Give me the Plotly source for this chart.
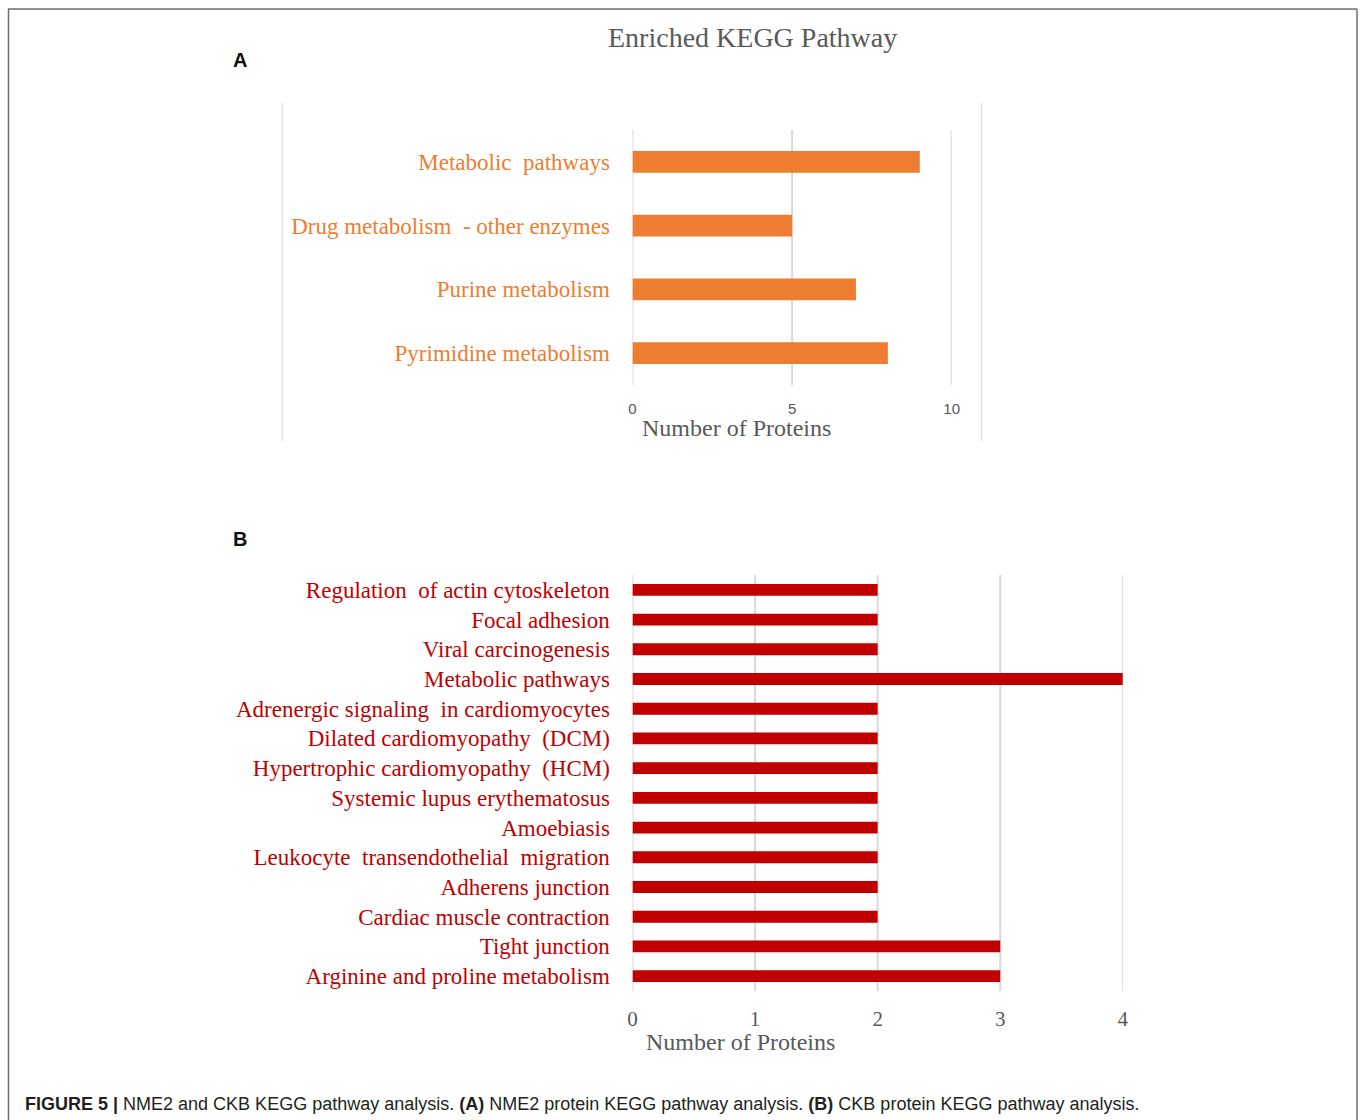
import plotly.graph_objects as go

# Panel A: NME2 enriched KEGG pathways
a_pathways = [
    "Metabolic  pathways",
    "Drug metabolism  - other enzymes",
    "Purine metabolism",
    "Pyrimidine metabolism",
]
a_counts = [9, 5, 7, 8]

# Panel B: CKB enriched KEGG pathways
b_pathways = [
    "Regulation  of actin cytoskeleton",
    "Focal adhesion",
    "Viral carcinogenesis",
    "Metabolic pathways",
    "Adrenergic signaling  in cardiomyocytes",
    "Dilated cardiomyopathy  (DCM)",
    "Hypertrophic cardiomyopathy  (HCM)",
    "Systemic lupus erythematosus",
    "Amoebiasis",
    "Leukocyte  transendothelial  migration",
    "Adherens junction",
    "Cardiac muscle contraction",
    "Tight junction",
    "Arginine and proline metabolism",
]
b_counts = [2, 2, 2, 4, 2, 2, 2, 2, 2, 2, 2, 2, 3, 3]

a_ticks = [0, 5, 10]
b_ticks = [0, 1, 2, 3, 4]

W, H = 1360, 1120
# horizontal paper span as the page actually lays it out
X_OFF, X_SPAN = 5, 1346
ORANGE = "#ED7D31"
DARKRED = "#C00000"
GRID = "#D9D9D9"
GRAYTXT = "#595959"
SERIF = "Liberation Serif, Times New Roman, serif"
SANS = "Liberation Sans, Arial, sans-serif"


def px(x):
    return (x - X_OFF) / X_SPAN


def py(y):
    return 1 - y / H


fig = go.Figure()

fig.add_trace(go.Bar(
    x=a_counts, y=a_pathways, orientation="h",
    marker=dict(color=ORANGE, line=dict(width=0)),
    width=0.345, xaxis="x", yaxis="y", showlegend=False,
))
fig.add_trace(go.Bar(
    x=b_counts, y=b_pathways, orientation="h",
    marker=dict(color=DARKRED, line=dict(width=0)),
    width=0.40, xaxis="x2", yaxis="y2", showlegend=False,
))

fig.update_layout(
    width=W, height=H, autosize=False,
    margin=dict(l=0, r=0, t=0, b=0),
    paper_bgcolor="white", plot_bgcolor="white",
    xaxis=dict(
        domain=[px(632), px(951)], range=[0, 10], tickvals=a_ticks,
        showgrid=False, zeroline=False,
        showline=False, ticks="outside", ticklen=10,
        tickcolor="rgba(0,0,0,0)", anchor="y",
        tickfont=dict(family=SANS, size=15, color=GRAYTXT),
        fixedrange=True,
    ),
    yaxis=dict(
        domain=[py(385), py(130)], range=[3.5, -0.5],
        categoryorder="array", categoryarray=a_pathways,
        showgrid=False, zeroline=False, showline=False,
        ticks="outside", ticklen=17, tickcolor="rgba(0,0,0,0)",
        tickfont=dict(family=SERIF, size=23, color=ORANGE),
        anchor="x", fixedrange=True,
    ),
    xaxis2=dict(
        domain=[px(632), px(1122)], range=[0, 4], tickvals=b_ticks,
        showgrid=False, zeroline=False,
        showline=False, ticks="outside", ticklen=9,
        tickcolor="rgba(0,0,0,0)", anchor="y2",
        tickfont=dict(family=SERIF, size=21, color=GRAYTXT),
        fixedrange=True,
    ),
    yaxis2=dict(
        domain=[py(991), py(575)], range=[13.5, -0.5],
        categoryorder="array", categoryarray=b_pathways,
        showgrid=False, zeroline=False, showline=False,
        ticks="outside", ticklen=17, tickcolor="rgba(0,0,0,0)",
        tickfont=dict(family=SERIF, size=23, color=DARKRED),
        anchor="x2", fixedrange=True,
    ),
)

shapes = [
    # outer figure frame
    dict(type="line", xref="paper", yref="paper", x0=px(8), x1=px(1356),
         y0=py(9), y1=py(9), line=dict(color="#6E6E6E", width=1.5)),
    dict(type="line", xref="paper", yref="paper", x0=px(8.5), x1=px(8.5),
         y0=py(9), y1=py(1125), line=dict(color="#6E6E6E", width=1.5)),
    dict(type="line", xref="paper", yref="paper", x0=px(1356), x1=px(1356),
         y0=py(9), y1=py(1125), line=dict(color="#6E6E6E", width=1.5)),
    # chart-area edges of panel A
    dict(type="line", xref="paper", yref="paper", x0=px(282), x1=px(282),
         y0=py(103), y1=py(441), line=dict(color=GRID, width=1.2)),
    dict(type="line", xref="paper", yref="paper", x0=px(981), x1=px(981),
         y0=py(103), y1=py(441), line=dict(color=GRID, width=1.2)),
]
# vertical gridlines at every tick, including the range ends
for v in a_ticks:
    shapes.append(dict(type="line", xref="x", yref="y domain", x0=v, x1=v,
                       y0=0, y1=1, layer="below",
                       line=dict(color=GRID, width=2)))
for v in b_ticks:
    shapes.append(dict(type="line", xref="x2", yref="y2 domain", x0=v, x1=v,
                       y0=0, y1=1, layer="below",
                       line=dict(color=GRID, width=2)))
fig.update_layout(shapes=shapes)

annotations = [
    dict(text="Enriched KEGG Pathway", x=px(752), y=py(38), xref="paper",
         yref="paper", showarrow=False, xanchor="center", yanchor="middle",
         font=dict(family=SERIF, size=28, color=GRAYTXT)),
    dict(text="<b>A</b>", x=px(231), y=py(60), xref="paper", yref="paper",
         showarrow=False, xanchor="left", yanchor="middle",
         font=dict(family=SANS, size=20, color="#111111")),
    dict(text="<b>B</b>", x=px(231), y=py(539), xref="paper", yref="paper",
         showarrow=False, xanchor="left", yanchor="middle",
         font=dict(family=SANS, size=20, color="#111111")),
    dict(text="Number of Proteins", x=px(640), y=py(428), xref="paper",
         yref="paper", showarrow=False, xanchor="left", yanchor="middle",
         font=dict(family=SERIF, size=24, color=GRAYTXT)),
    dict(text="Number of Proteins", x=px(644), y=py(1042), xref="paper",
         yref="paper", showarrow=False, xanchor="left", yanchor="middle",
         font=dict(family=SERIF, size=24, color=GRAYTXT)),
    dict(text="<b>FIGURE 5 |</b> NME2 and CKB KEGG pathway analysis. "
              "<b>(A)</b> NME2 protein KEGG pathway analysis. "
              "<b>(B)</b> CKB protein KEGG pathway analysis.",
         x=px(23), y=py(1104), xref="paper", yref="paper", showarrow=False,
         xanchor="left", yanchor="middle",
         font=dict(family=SANS, size=18, color="#231F20")),
]
fig.update_layout(annotations=annotations)

# keep the page exactly figure-sized: no body margin, no scrollbars
page_js = (
    "document.documentElement.style.overflow='hidden';"
    "document.body.style.overflow='hidden';"
    "document.body.style.margin='0';"
)
fig.write_html("out.html", config={"responsive": False}, post_script=page_js)
